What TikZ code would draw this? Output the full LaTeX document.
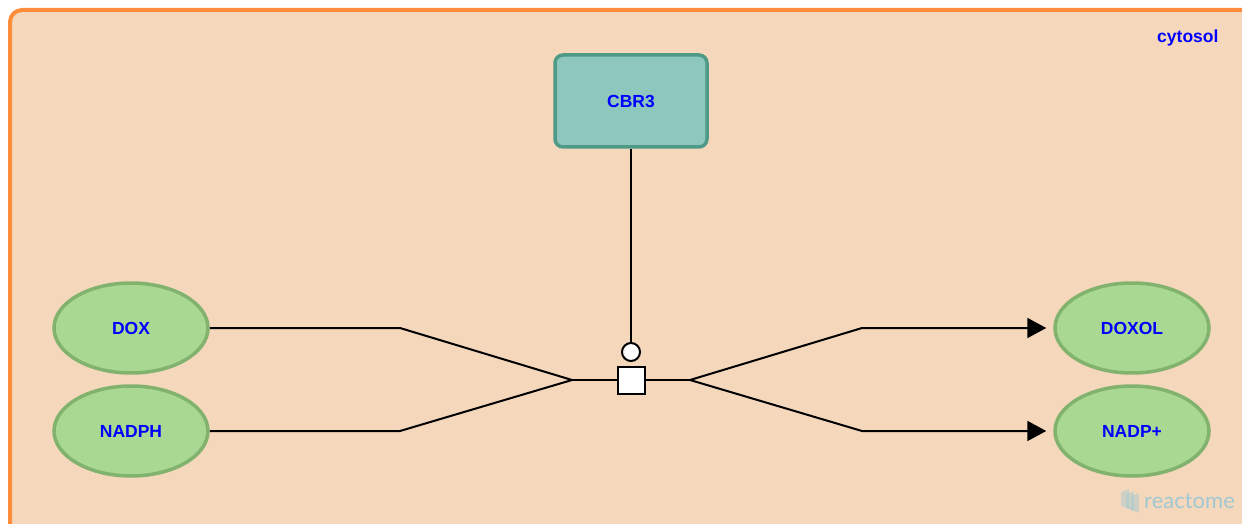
\documentclass[tikz,border=0pt]{standalone}
\usepackage{fontspec}
\setmainfont{Liberation Sans}
\newfontfamily\logofont{Lato}
\definecolor{colcompfill}{RGB}{245,216,188}
\definecolor{colcompline}{RGB}{255,140,58}
\definecolor{colprotfill}{RGB}{142,199,189}
\definecolor{colprotline}{RGB}{78,154,135}
\definecolor{colchemfill}{RGB}{168,216,146}
\definecolor{colchemline}{RGB}{130,179,110}
\definecolor{collabel}{RGB}{0,0,255}
\definecolor{collogo}{RGB}{160,200,212}
\usetikzlibrary{
	arrows.meta,
	positioning,
	shapes.geometric
}
\tikzset{
	>={Triangle[length=19pt, width=20pt]},
	compartment/.style={draw=colcompline, fill=colcompfill, line width=4pt, rounded corners=12pt},
	complabel/.style={text=collabel, font=\fontsize{17.5}{20}\selectfont\bfseries},
	protein/.style={draw=colprotline, fill=colprotfill, line width=3.5pt, rounded corners=8pt,
		minimum width=152pt, minimum height=92pt, text=collabel, font=\fontsize{17.5}{20}\selectfont\bfseries},
	chemical/.style={ellipse, draw=colchemline, fill=colchemfill, line width=3.5pt,
		minimum width=154pt, minimum height=90pt, text=collabel, font=\fontsize{17.5}{20}\selectfont\bfseries},
	reaction/.style={draw, fill=white, line width=2pt, minimum size=27pt, inner sep=0pt},
	catalyst/.style={circle, draw, fill=white, line width=2pt, minimum size=18pt, inner sep=0pt},
	flow/.style={line width=2pt},
	output/.style={flow, ->, shorten >=7pt},
	logotext/.style={text=collogo, font=\logofont\fontsize{22}{24}\selectfont, inner sep=0pt}
}

\begin{document}
\begin{tikzpicture}[x=1pt, y=-1pt]
	\useasboundingbox (0,0) rectangle (1242,524);
	\clip (0,0) rectangle (1242,524);
	% compartment
	\draw[compartment] (10,10) rectangle (1262,560);
	\node[complabel, anchor=east] (cytosol) at (1222,38) {cytosol};
	% entities
	\node[protein] (cbr3) at (631,101) {CBR3};
	\node[chemical] (dox) at (131,328) {DOX};
	\node[chemical] (nadph) at (131,431) {NADPH};
	\node[chemical] (doxol) at (1132,328) {DOXOL};
	\node[chemical] (nadpp) at (1132,431) {NADP+};
	% reaction
	\node[reaction] (rxn) at (631,380) {};
	\node[catalyst] (cat) at (631,352) {};
	\coordinate (inhub) at (572,380);
	\coordinate (outhub) at (690,380);
	\draw[flow] (dox.east) -- (400,328) -- (inhub);
	\draw[flow] (nadph.east) -- (400,431) -- (inhub);
	\draw[flow] (inhub) -- (rxn.west);
	\draw[flow] (rxn.east) -- (outhub);
	\draw[output] (outhub) -- (862,328) -- (doxol.west);
	\draw[output] (outhub) -- (862,431) -- (nadpp.west);
	\draw[flow] (cbr3.south) -- (cat.north);
	% watermark
	\foreach \d in {0,...,2} {
		\fill[collogo, opacity=0.45] (1121+\d*5,492+\d*2) -- (1129+\d*5,489+\d*2)
			-- (1129+\d*5,509+\d*2) -- (1121+\d*5,506+\d*2) -- cycle;
	}
	\node[logotext, anchor=west] (logo) at (1144,501) {reactome};
\end{tikzpicture}
\end{document}
